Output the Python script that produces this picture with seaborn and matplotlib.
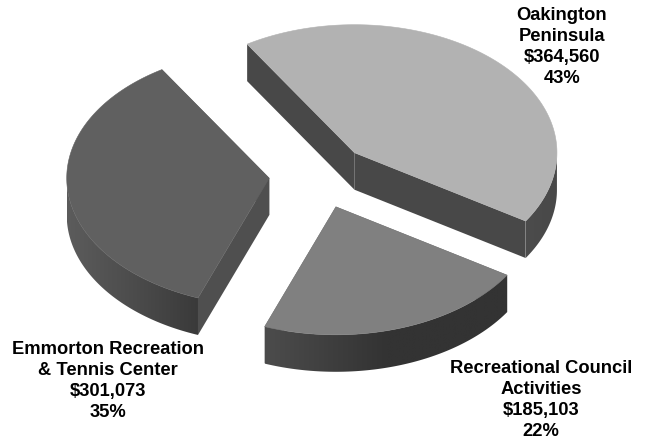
import numpy as np
import seaborn as sns
import matplotlib
matplotlib.use("Agg")
import matplotlib.pyplot as plt
from matplotlib.colors import LinearSegmentedColormap
from matplotlib.patches import Polygon

# slices, clockwise from the start angle
names = ["Oakington\nPeninsula", "Recreational Council\nActivities", "Emmorton Recreation\n& Tennis Center"]
amounts = [364560, 185103, 301073]
percents = [43, 22, 35]

top_colors = ["#b2b2b2", "#808080", "#606060"]
wall_colors = ["#484848", "#4a4a4a", "#4f4f4f"]
rim_from = ["#4c4c4c", "#4c4c4c", "#5c5c5c"]
rim_mid = ["#4a4a4a", "#333333", "#4c4c4c"]
rim_to = ["#484848", "#333333", "#3a3a3a"]
explode = [0.247, 0.262, 0.247]
label_pos = [(562, 47), (541, 400), (108, 381)]

START = 122.0
CX, CY = 319, 175
RX, RY = 202.5, 128
DEPTH = 37

sns.set_theme(style="white")
plt.rcParams["font.family"] = ["Liberation Sans", "DejaVu Sans"]

fig, ax = plt.subplots(figsize=(6.47, 4.42), dpi=100)
ax.set_position([0, 0, 1, 1])
ax.axis("off")

shares = np.array(amounts) / sum(amounts)
edges = START - np.concatenate([[0], np.cumsum(shares)]) * 360

for i in range(len(amounts)):
    t0, t1 = edges[i], edges[i + 1]
    mid = np.radians((t0 + t1) / 2)
    ox = CX + explode[i] * RX * np.cos(mid)
    oy = CY - explode[i] * RY * np.sin(mid)

    ts = np.radians(np.linspace(t0, t1, 240))
    xs = ox + RX * np.cos(ts)
    ys = oy - RY * np.sin(ts)

    # straight walls from the apex to both ends of the arc
    for k in (0, -1):
        ax.fill([ox, xs[k], xs[k], ox], [oy, ys[k], ys[k] + DEPTH, oy + DEPTH],
                color=wall_colors[i], lw=0, zorder=2)

    # outer rim, only the front half shows, shaded left to right
    front = np.sin(ts) < 0
    fx, fy = xs[front], ys[front]
    rim = np.c_[np.r_[fx, fx[::-1]], np.r_[fy, fy[::-1] + DEPTH]]
    cmap = LinearSegmentedColormap.from_list("rim", [rim_from[i], rim_mid[i], rim_to[i]])
    img = ax.imshow(np.linspace(0, 1, 256)[None, :], cmap=cmap, aspect="auto", zorder=3,
                    extent=(fx.min(), fx.max(), fy.max() + DEPTH, fy.min()))
    img.set_clip_path(Polygon(rim, transform=ax.transData))

    ax.fill(np.r_[ox, xs], np.r_[oy, ys], color=top_colors[i], lw=0.4, zorder=4)

    label = f"{names[i]}\n${amounts[i]:,}\n{percents[i]}%"
    ax.text(label_pos[i][0], label_pos[i][1], label, ha="center", va="center",
            fontsize=13.2, fontweight="bold", color="black", linespacing=1.31, zorder=5)

ax.set_xlim(0, 647)
ax.set_ylim(442, 0)

fig.savefig("out.png", dpi=100, facecolor="white")
